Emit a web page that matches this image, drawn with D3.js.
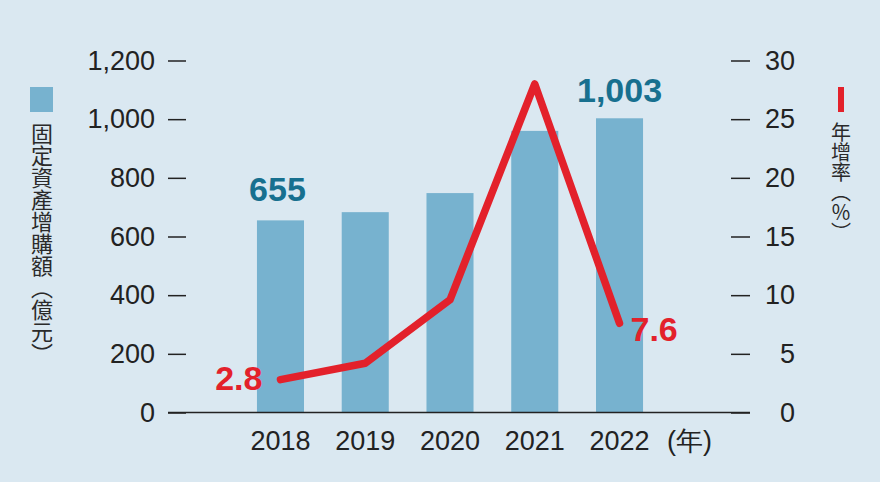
<!DOCTYPE html>
<html><head><meta charset="utf-8">
<script src="https://cdn.jsdelivr.net/npm/d3@7"></script>
<style>
html,body{margin:0;padding:0;background:#dae8f1;}
svg{display:block;font-family:"Liberation Sans",Arial,sans-serif;}
</style></head>
<body>
<svg id="c" width="880" height="482"></svg>
<script>
const years = ["2018","2019","2020","2021","2022"];
const amounts = [655, 683, 748, 960, 1003];
const growth = [2.8, 4.2, 9.6, 28.0, 7.6];
const leftTicks = [0, 200, 400, 600, 800, 1000, 1200];
const rightTicks = [0, 5, 10, 15, 20, 25, 30];
const amountLabels = [{i:0, text:"655"}, {i:4, text:"1,003"}];
const growthLabels = [{i:0, text:"2.8"}, {i:4, text:"7.6"}];

const svg = d3.select("#c");
svg.append("rect").attr("width",880).attr("height",482).attr("fill","#dae8f1");

const x = d3.scaleBand().domain(years).range([238.1, 661.9]).paddingInner(0.445).paddingOuter(0.2225);
const y = d3.scaleLinear().domain([0,1200]).range([412.5, 60.5]);
const y2 = d3.scaleLinear().domain([0,30]).range([412.5, 60.5]);

// bars
svg.selectAll("rect.bar").data(years).enter().append("rect")
  .attr("class","bar")
  .attr("x", d=>x(d)).attr("width", x.bandwidth())
  .attr("y", (d,i)=>y(amounts[i])).attr("height",(d,i)=>y(0)-y(amounts[i]))
  .attr("fill","#77b2cf");

// left axis
const la = svg.append("g").attr("transform","translate(186,0)")
  .call(d3.axisLeft(y).tickValues(leftTicks).tickFormat(d3.format(",")).tickSize(18).tickPadding(13));
la.select(".domain").remove();
la.selectAll("line").attr("stroke","#222").attr("stroke-width",1.5);
la.selectAll("text").attr("fill","#222").style("font-size","27px");

// right axis
const ra = svg.append("g").attr("transform","translate(731,0)")
  .call(d3.axisRight(y2).tickValues(rightTicks).tickSize(19).tickPadding(10));
ra.select(".domain").remove();
ra.selectAll("line").attr("stroke","#222").attr("stroke-width",1.5);
ra.selectAll("text").attr("fill","#222").style("font-size","27px").attr("text-anchor","end").attr("x",64);

// baseline
svg.append("line").attr("x1",168).attr("x2",750).attr("y1",y(0)).attr("y2",y(0))
  .attr("stroke","#222").attr("stroke-width",1.6);

// x axis labels
const xa = svg.append("g").attr("transform","translate(0,"+(y(0))+")")
  .call(d3.axisBottom(x).tickSize(0).tickPadding(18.5));
xa.select(".domain").remove();
xa.selectAll("text").attr("fill","#222").style("font-size","27px");
svg.append("text").attr("x",667).attr("y",450).attr("fill","#222").style("font-size","27px").text("(年)");

// line
const line = d3.line().x((d,i)=>x(years[i])+x.bandwidth()/2).y(d=>y2(d));
svg.append("path").datum(growth).attr("d",line).attr("fill","none")
  .attr("stroke","#e3212b").attr("stroke-width",7.5).attr("stroke-linejoin","round").attr("stroke-linecap","round");

// value labels
svg.selectAll("text.amt").data(amountLabels).enter().append("text")
  .attr("x", d=>x(years[d.i])+x.bandwidth()/2 - (d.i===0?3:0))
  .attr("y", d=>y(amounts[d.i]) - (d.i===0?19:16))
  .attr("text-anchor","middle").attr("fill","#17708f")
  .style("font-size","34px").style("font-weight","bold").text(d=>d.text);

svg.selectAll("text.gr").data(growthLabels).enter().append("text")
  .attr("x", d=>x(years[d.i])+x.bandwidth()/2 + (d.i===0?-18:11))
  .attr("y", d=> d.i===0 ? y2(growth[d.i])+10 : y2(growth[d.i])+18)
  .attr("text-anchor", d=>d.i===0?"end":"start").attr("fill","#e3212b")
  .style("font-size","34px").style("font-weight","bold").text(d=>d.text);

// legends
svg.append("rect").attr("x",30).attr("y",87).attr("width",23).attr("height",25).attr("fill","#77b2cf");
svg.append("text").attr("x",42).attr("y",123)
  .style("writing-mode","vertical-rl").style("font-family","'Noto Sans CJK TC',sans-serif")
  .style("font-size","22px").attr("fill","#2a2a2a").text("固定資產增購額（億元）");

svg.append("rect").attr("x",838).attr("y",87).attr("width",6).attr("height",25).attr("fill","#e3212b");
svg.append("text").attr("x",841).attr("y",122)
  .style("writing-mode","vertical-rl").style("font-family","'Noto Sans CJK TC',sans-serif")
  .style("font-size","20px").attr("fill","#2a2a2a").text("年增率（％）");
</script>
</body></html>
